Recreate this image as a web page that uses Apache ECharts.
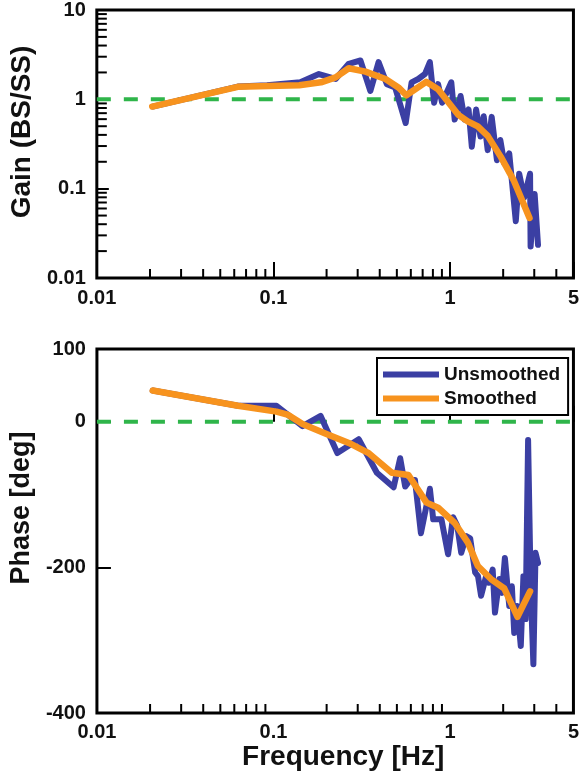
<!DOCTYPE html>
<html><head><meta charset="utf-8">
<script src="https://cdn.jsdelivr.net/npm/echarts@6/dist/echarts.min.js"></script>
<style>html,body{margin:0;padding:0;background:#fff}#c{width:582px;height:774px}</style>
</head><body><div id="c"></div>
<script>
// ---- data ----
const rawFreqGain = [0.0207,0.0628,0.092,0.142,0.181,0.225,0.267,0.311,0.354,0.394,0.439,0.489,0.561,0.606,0.661,0.721,0.769,0.813,0.856,0.902,1.017,1.063,1.148,1.209,1.274,1.329,1.405,1.488,1.552,1.635,1.722,1.844,1.927,2.03,2.165,2.358,2.464,2.63,2.84,2.86,3.015,3.15];
const rawGain = [0.83,1.39,1.44,1.55,1.92,1.69,2.50,2.72,1.24,2.61,1.48,1.36,0.543,1.55,1.69,1.92,2.61,0.917,1.48,0.917,1.55,0.593,1.09,0.593,0.770,0.295,0.77,0.383,0.646,0.270,0.636,0.208,0.351,0.191,0.248,0.0433,0.147,0.0796,0.147,0.0225,0.087,0.0235];
const smoothFreqGain = [0.0206,0.0628,0.14,0.186,0.225,0.267,0.332,0.431,0.51,0.566,0.733,0.856,1.11,1.26,1.437,1.635,1.94,2.30,2.82];
const smoothGain = [0.83,1.38,1.44,1.55,1.76,2.23,2.04,1.69,1.36,1.11,1.57,1.30,0.675,0.567,0.497,0.39,0.227,0.123,0.047];
const rawFreqPhase = [0.0207,0.063,0.104,0.146,0.185,0.23,0.304,0.385,0.479,0.522,0.557,0.594,0.633,0.684,0.769,0.803,0.894,0.975,1.04,1.099,1.157,1.235,1.30,1.388,1.44,1.499,1.6,1.66,1.744,1.797,1.902,1.97,2.045,2.165,2.24,2.31,2.40,2.516,2.604,2.68,2.768,2.862,2.965,3.05,3.15];
const rawPhase = [43,22,22,-6,8,-43,-24,-70,-90,-50,-89,-80,-80,-153,-92,-134,-134,-182,-131,-143,-180,-157,-160,-207,-212,-239,-212,-221,-203,-262,-216,-235,-187,-253,-226,-290,-253,-308,-212,-271,-25,-226,-333,-180,-194];
const smoothFreqPhase = [0.0207,0.063,0.104,0.12,0.146,0.206,0.267,0.346,0.468,0.581,0.736,0.856,1.063,1.262,1.437,1.706,2.03,2.41,2.84];
const smoothPhase = [43,22,14,10,-3,-18,-29,-43,-70,-73,-111,-118,-139,-166,-198,-216,-229,-268,-233];
const refGain = 1;
const refPhase = 0;
// ticks / labels
const xMinorTicks = [0.02,0.03,0.04,0.05,0.06,0.07,0.08,0.09,0.2,0.3,0.4,0.5,0.6,0.7,0.8,0.9,2,3,4];
const gainMinorTicks = [0.02,0.03,0.04,0.05,0.06,0.07,0.08,0.09,0.2,0.3,0.4,0.5,0.6,0.7,0.8,0.9,2,3,4,5,6,7,8,9];
const phaseLabels = [100,0,-200,-400];
const phaseTicks = [0,-200];
const xRange = [0.01,5];
const gainRange = [0.01,10];
const phaseRange = [-400,100];
const seriesNames = ['Unsmoothed','Smoothed'];

const FONT = '"Liberation Sans", Arial, Helvetica, sans-serif';
const BLUE = '#3b3fa3', ORANGE = '#f7931e', GREEN = '#2fb54a';
const pairs = (xs, ys) => xs.map((x, i) => [x, ys[i]]);

function tickSeries(xi, yi, values, horizontal, anchor, len) {
  return {
    type: 'custom', xAxisIndex: xi, yAxisIndex: yi, silent: true, z: 5,
    data: values.map(v => horizontal ? [anchor, v] : [v, anchor]),
    renderItem: function (params, api) {
      const p = api.coord([api.value(0), api.value(1)]);
      return {
        type: 'line',
        shape: horizontal ? {x1: p[0], y1: p[1], x2: p[0] + len, y2: p[1]}
                          : {x1: p[0], y1: p[1], x2: p[0], y2: p[1] - len},
        style: {stroke: '#000', lineWidth: 2}
      };
    }
  };
}

const labelStyle = {color: '#111', fontFamily: FONT, fontWeight: 'bold', fontSize: 20};
const nameStyle = (pad, size) => ({color: '#111', fontFamily: FONT, fontWeight: 'bold', fontSize: size, padding: pad});

const chart = echarts.init(document.getElementById('c'), null, {renderer: 'canvas'});
chart.setOption({
  animation: false,
  backgroundColor: '#fff',
  grid: [
    {left: 96, right: 6, top: 10, height: 268, show: true, borderColor: '#000', borderWidth: 3, containLabel: false},
    {left: 96, right: 6, top: 349, height: 364, show: true, borderColor: '#000', borderWidth: 3, containLabel: false}
  ],
  legend: {
    data: seriesNames, orient: 'vertical', left: 377, top: 358,
    icon: 'rect', padding: [7, 8, 7, 6], itemGap: 5, itemWidth: 56, itemHeight: 6,
    borderColor: '#000', borderWidth: 2, backgroundColor: '#fff',
    textStyle: {fontFamily: FONT, fontWeight: 'bold', fontSize: 19, color: '#111'}
  },
  xAxis: [
    {type: 'log', logBase: 10, gridIndex: 0, min: xRange[0], max: xRange[1],
     axisLine: {show: false}, splitLine: {show: false},
     axisTick: {inside: true, length: 16, lineStyle: {color: '#000', width: 2}},
     axisLabel: Object.assign({margin: 10, showMinLabel: true, showMaxLabel: true}, labelStyle)},
    {type: 'log', logBase: 10, gridIndex: 1, min: xRange[0], max: xRange[1],
     axisLine: {show: false}, splitLine: {show: false},
     axisTick: {inside: true, length: 16, lineStyle: {color: '#000', width: 2}},
     axisLabel: Object.assign({margin: 9, showMinLabel: true, showMaxLabel: true}, labelStyle),
     name: 'Frequency [Hz]', nameLocation: 'middle', nameGap: 26,
     nameTextStyle: nameStyle([0, 0, 0, 16], 28)}
  ],
  yAxis: [
    {type: 'log', logBase: 10, gridIndex: 0, min: gainRange[0], max: gainRange[1],
     axisLine: {show: false}, splitLine: {show: false},
     axisTick: {inside: true, length: 12, lineStyle: {color: '#000', width: 2}},
     axisLabel: Object.assign({margin: 11}, labelStyle),
     name: 'Gain (BS/SS)', nameLocation: 'middle', nameGap: 46,
     nameTextStyle: nameStyle([0, 0, 0, 24], 28)},
    {type: 'value', gridIndex: 1, min: phaseRange[0], max: phaseRange[1], interval: 100,
     axisLine: {show: false}, splitLine: {show: false},
     axisTick: {inside: true, length: 14, customValues: phaseTicks, lineStyle: {color: '#000', width: 2}},
     axisLabel: Object.assign({margin: 11, customValues: phaseLabels}, labelStyle),
     name: 'Phase [deg]', nameLocation: 'middle', nameGap: 46,
     nameTextStyle: nameStyle([0, 0, 0, 46], 27)}
  ],
  series: [
    {type: 'line', name: 'ref1', xAxisIndex: 0, yAxisIndex: 0, silent: true, symbol: 'none', z: 1,
     data: [[xRange[0], refGain], [xRange[1], refGain]],
     lineStyle: {color: GREEN, width: 4, type: [14, 13]}},
    {type: 'line', name: 'ref2', xAxisIndex: 1, yAxisIndex: 1, silent: true, symbol: 'none', z: 1,
     data: [[xRange[0], refPhase], [xRange[1], refPhase]],
     lineStyle: {color: GREEN, width: 4, type: [14, 13]}},
    {type: 'line', name: seriesNames[0], xAxisIndex: 0, yAxisIndex: 0, symbol: 'none', z: 2,
     data: pairs(rawFreqGain, rawGain), color: BLUE,
     lineStyle: {color: BLUE, width: 6, join: 'round', cap: 'round'}},
    {type: 'line', name: seriesNames[1], xAxisIndex: 0, yAxisIndex: 0, symbol: 'none', z: 3,
     data: pairs(smoothFreqGain, smoothGain), color: ORANGE,
     lineStyle: {color: ORANGE, width: 6.5, join: 'round', cap: 'round'}},
    {type: 'line', name: seriesNames[0], xAxisIndex: 1, yAxisIndex: 1, symbol: 'none', z: 2,
     data: pairs(rawFreqPhase, rawPhase), color: BLUE,
     lineStyle: {color: BLUE, width: 6, join: 'round', cap: 'round'}},
    {type: 'line', name: seriesNames[1], xAxisIndex: 1, yAxisIndex: 1, symbol: 'none', z: 3,
     data: pairs(smoothFreqPhase, smoothPhase), color: ORANGE,
     lineStyle: {color: ORANGE, width: 6.5, join: 'round', cap: 'round'}},
    tickSeries(0, 0, xMinorTicks, false, gainRange[0], 9),
    tickSeries(1, 1, xMinorTicks, false, phaseRange[0], 9),
    tickSeries(0, 0, gainMinorTicks, true, xRange[0], 10)
  ]
});
</script>
</body></html>
